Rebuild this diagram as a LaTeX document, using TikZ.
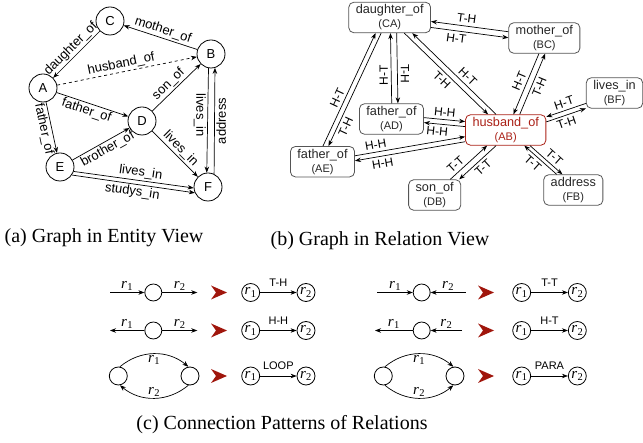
\documentclass[tikz,border=0pt]{standalone}
\usepackage{fontspec}
\setmainfont{Liberation Serif}
\setsansfont{Liberation Sans}
\usetikzlibrary{arrows.meta,positioning}

\definecolor{hbred}{RGB}{170,32,22}
\definecolor{boxgray}{RGB}{85,85,85}
\definecolor{headred}{RGB}{160,22,12}
\newcommand{\relid}{\fontsize{11}{11}\selectfont}
\newcommand{\rsub}[1]{\textit{r}\kern0.3pt\textsubscript{#1}}

\tikzset{
    ent/.style={circle, draw, line width=0.8pt, minimum size=28pt, inner sep=0pt,
        font=\sffamily\fontsize{13}{13}\selectfont},
    rel/.style={draw=boxgray, rounded corners=5pt, line width=0.8pt, align=center,
        inner xsep=7pt, inner ysep=2.5pt, text=black!85,
        font=\sffamily\fontsize{12.7}{14}\selectfont},
    arr/.style={-{Stealth[length=6pt,width=4.5pt]}, line width=0.7pt},
    elab/.style={sloped, inner sep=1.5pt, font=\sffamily\fontsize{13}{13}\selectfont},
    vlab/.style={inner sep=1.5pt, font=\sffamily\fontsize{13}{13}\selectfont},
    rlab/.style={sloped, inner sep=3pt, font=\sffamily\fontsize{12}{12}\selectfont},
    rvlab/.style={inner sep=3pt, font=\sffamily\fontsize{12}{12}\selectfont},
    joint/.style={circle, draw, line width=0.8pt, minimum size=17pt, inner sep=0pt},
    rcirc/.style={circle, draw, line width=0.8pt, minimum size=18pt, inner sep=0pt,
        font=\fontsize{15}{15}\selectfont},
    rl/.style={inner sep=1.5pt, font=\fontsize{15}{15}\selectfont},
    plab/.style={above=5pt, inner sep=1pt, font=\sffamily\fontsize{11}{11}\selectfont},
    captext/.style={font=\fontsize{20}{20}\selectfont}
}

\begin{document}
\begin{tikzpicture}[x=1pt, y=-1pt]
    \useasboundingbox (0,0) rectangle (643,443);

    % (a) entity view
    \node[ent] (A) at (43,88) {A};
    \node[ent] (B) at (211,54) {B};
    \node[ent] (C) at (110,21) {C};
    \node[ent] (D) at (142,121) {D};
    \node[ent] (E) at (60,167) {E};
    \node[ent] (F) at (208,187) {F};

    \draw[arr] (B) -- (C) node[elab, midway, above] {mother\_of};
    \draw[arr] (C) -- (A) node[elab, midway, above] {daughter\_of};
    \draw[arr, dashed] (A) -- (B) node[elab, pos=0.47, above] {husband\_of};
    \draw[arr] (A) -- (D) node[elab, pos=0.45, below] {father\_of};
    \draw[arr] (A) -- (E) node[elab, midway, below] {father\_of};
    \draw[arr] (D) -- (B) node[elab, pos=0.45, above] {son\_of};
    \draw[arr] (E) -- (D) node[elab, pos=0.55, below] {brother\_of};
    \draw[arr] (D) -- (F) node[elab, midway, above] {lives\_in};
    \draw[arr] (B.-100) -- (F.95) node[vlab, pos=0.45, rotate=-90, below] {lives\_in};
    \draw[arr] (F.65) -- (B.-74) node[vlab, midway, rotate=90, below] {address};
    \draw[arr] (E.-18) -- (F.184) node[elab, pos=0.55, above] {lives\_in};
    \draw[arr] (E.-34) -- (F.204) node[elab, midway, below] {studys\_in};

    % (b) relation view
    \node[rel] (CA) at (389.7,17.5) {daughter\_of\\{\relid (CA)}};
    \node[rel] (BC) at (544.3,38) {mother\_of\\{\relid (BC)}};
    \node[rel] (BF) at (614.5,93) {lives\_in\\{\relid (BF)}};
    \node[rel] (AD) at (391.5,119) {father\_of\\{\relid (AD)}};
    \node[rel, draw=hbred, text=hbred] (AB) at (505.7,130) {husband\_of\\{\relid (AB)}};
    \node[rel] (AE) at (322.5,161.7) {father\_of\\{\relid (AE)}};
    \node[rel] (DB) at (434.7,195) {son\_of\\{\relid (DB)}};
    \node[rel] (FB) at (573.3,190) {address\\{\relid (FB)}};

    \draw[arr, transform canvas={shift={(0,-1.5)}}] (BC) -- (CA) node[rlab, pos=0.55, above] {T-H};
    \draw[arr, transform canvas={shift={(0,4.5)}}] (CA) -- (BC) node[rlab, pos=0.34, below] {H-T};
    \draw[arr, transform canvas={shift={(0.5,0)}}] (AD) -- (CA) node[rvlab, pos=0.4, rotate=90, above] {H-T};
    \draw[arr, transform canvas={shift={(6.7,0)}}] (CA) -- (AD) node[rvlab, pos=0.58, rotate=-90, above] {T-H};
    \draw[arr, transform canvas={shift={(-6.8,0)}}] (AE) -- (CA) node[rlab, pos=0.4, above] {H-T};
    \draw[arr, transform canvas={shift={(-1.3,0)}}] (CA) -- (AE) node[rlab, pos=0.8, below] {T-H};
    \draw[arr, transform canvas={shift={(-1.5,0)}}] (CA) -- (AB) node[rlab, pos=0.51, below] {T-H};
    \draw[arr, transform canvas={shift={(6.5,0)}}] (AB) -- (CA) node[rlab, pos=0.4, above] {H-T};
    \draw[arr, transform canvas={shift={(1.2,0)}}] (BC) -- (AB) node[rlab, pos=0.5, above] {H-T};
    \draw[arr, transform canvas={shift={(7.5,0)}}] (AB) -- (BC) node[rlab, pos=0.5, below] {T-H};
    \draw[arr, transform canvas={shift={(0,0.7)}}] (BF) -- (AB) node[rlab, pos=0.49, above] {H-T};
    \draw[arr, transform canvas={shift={(0,5.7)}}] (AB) -- (BF) node[rlab, pos=0.45, below] {T-H};
    \draw[arr, transform canvas={shift={(0,-4.5)}}] (AD) -- (AB) node[rlab, pos=0.49, above] {H-H};
    \draw[arr, transform canvas={shift={(0,0.5)}}] (AB) -- (AD) node[rlab, pos=0.66, below] {H-H};
    \draw[arr, transform canvas={shift={(0,-0.3)}}] (AE) -- (AB) node[rlab, pos=0.2, above] {H-H};
    \draw[arr, transform canvas={shift={(0,4.7)}}] (AB) -- (AE) node[rlab, pos=0.76, below] {H-H};
    \draw[arr, transform canvas={shift={(-1.5,0)}}] (DB) -- (AB) node[rlab, pos=0.28, above] {T-T};
    \draw[arr, transform canvas={shift={(7.5,0)}}] (AB) -- (DB) node[rlab, pos=0.49, below] {T-T};
    \draw[arr, transform canvas={shift={(1,0)}}] (FB) -- (AB) node[rlab, pos=0.58, below] {T-T};
    \draw[arr, transform canvas={shift={(6.7,0)}}] (AB) -- (FB) node[rlab, pos=0.6, above] {T-T};

    % (c) connection patterns
    \coordinate (ta) at (110,292.5);
    \node[joint] (ja) at (153.3,292.5) {};
    \coordinate (tb) at (197.3,292.5);
    \draw[arr] (ta) -- (ja) node[rl, midway, above] {\rsub{1}};
    \draw[arr] (ja) -- (tb) node[rl, midway, above] {\rsub{2}};

    \coordinate (tc) at (110,330.5);
    \node[joint] (jb) at (153.3,330.5) {};
    \coordinate (td) at (197.3,330.5);
    \draw[arr] (jb) -- (tc) node[rl, midway, above] {\rsub{1}};
    \draw[arr] (jb) -- (td) node[rl, midway, above] {\rsub{2}};

    \node[joint, minimum size=18pt] (jc) at (118.3,376) {};
    \node[joint, minimum size=18pt] (jd) at (190,376) {};
    \draw[arr] (jc.80) to[out=40, in=140] node[rl, midway, below] {\rsub{1}} (jd.100);
    \draw[arr] (jd.-100) to[out=-140, in=-40] node[rl, midway, above] {\rsub{2}} (jc.-80);

    \coordinate (te) at (377.3,292.5);
    \node[joint] (jg) at (421.7,292.5) {};
    \coordinate (tf) at (465.7,292.5);
    \draw[arr] (te) -- (jg) node[rl, midway, above] {\rsub{1}};
    \draw[arr] (tf) -- (jg) node[rl, midway, above] {\rsub{2}};

    \coordinate (tg) at (375,330.5);
    \node[joint] (jh) at (421.7,330.5) {};
    \coordinate (th) at (462,330.5);
    \draw[arr] (jh) -- (tg) node[rl, midway, above] {\rsub{1}};
    \draw[arr] (th) -- (jh) node[rl, midway, above] {\rsub{2}};

    \node[joint, minimum size=18pt] (je) at (383.3,376) {};
    \node[joint, minimum size=18pt] (jf) at (455,376) {};
    \draw[arr] (je.80) to[out=40, in=140] node[rl, midway, below] {\rsub{1}} (jf.100);
    \draw[arr] (je.-80) to[out=-40, in=-140] node[rl, midway, above] {\rsub{2}} (jf.-100);

    \foreach \x in {219,486}
        \foreach \y in {292.5,330.5,376}
            \fill[headred] (\x-8,\y-7) -- (\x+8,\y) -- (\x-8,\y+7) -- (\x-3,\y) -- cycle;

    \foreach \y/\lab [count=\i] in {292.5/T-H, 330.5/H-H, 376/LOOP} {
        \node[rcirc] (ra\i) at (250.7,\y) {\rsub{1}};
        \node[rcirc] (rb\i) at (306,\y) {\rsub{2}};
        \draw[arr] (ra\i) -- (rb\i) node[plab, midway] {\lab};
    }
    \foreach \y/\lab [count=\i] in {292.5/T-T, 330.5/H-T, 376/PARA} {
        \node[rcirc] (rc\i) at (521.7,\y) {\rsub{1}};
        \node[rcirc] (rd\i) at (577.3,\y) {\rsub{2}};
        \draw[arr] (rc\i) -- (rd\i) node[plab, midway] {\lab};
    }

    \node[captext] (capa) at (104,237.5) {(a) Graph in Entity View};
    \node[captext] (capb) at (380,241) {(b) Graph in Relation View};
    \node[captext] (capc) at (282,425) {(c) Connection Patterns of Relations};
\end{tikzpicture}
\end{document}
